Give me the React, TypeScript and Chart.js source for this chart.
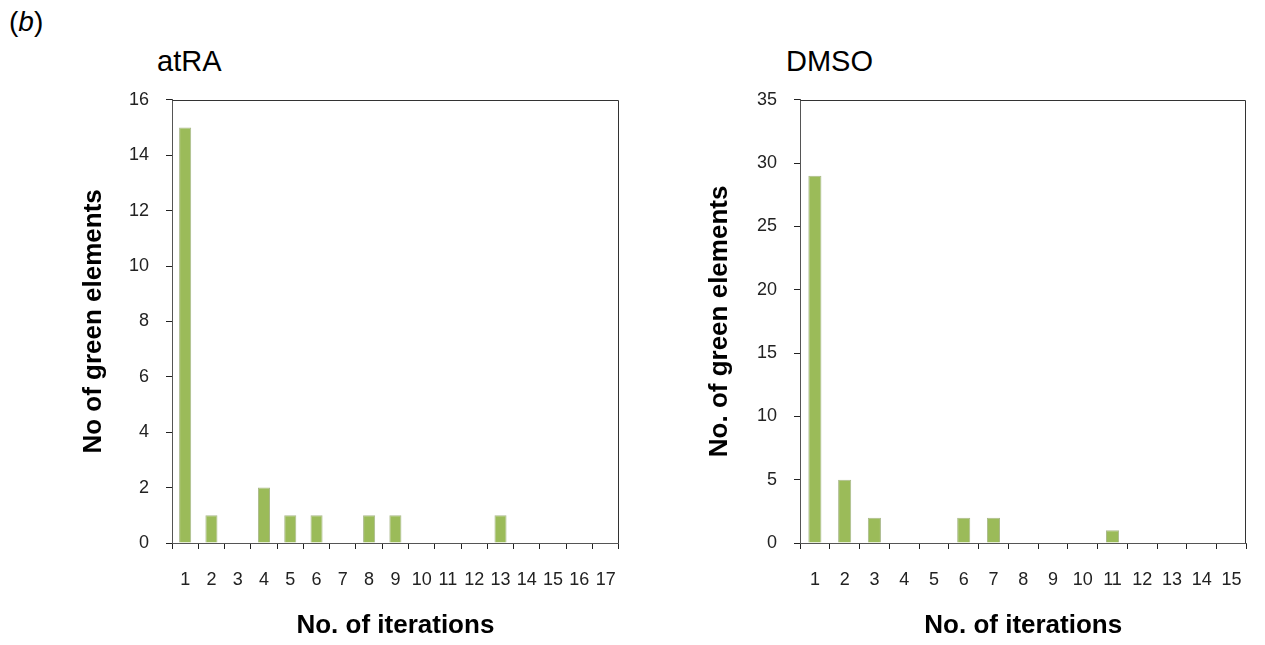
import React, { useEffect, useRef } from "react";
import { Chart, registerables } from "chart.js";

Chart.register(...registerables);

// ---- Data ----
const atraCategories = ["1", "2", "3", "4", "5", "6", "7", "8", "9", "10", "11", "12", "13", "14", "15", "16", "17"];
const atraValues = [15, 1, 0, 2, 1, 1, 0, 1, 1, 0, 0, 0, 1, 0, 0, 0, 0];
const atraYMax = 16;
const atraYStep = 2;

const dmsoCategories = ["1", "2", "3", "4", "5", "6", "7", "8", "9", "10", "11", "12", "13", "14", "15"];
const dmsoValues = [29, 5, 2, 0, 0, 2, 2, 0, 0, 0, 1, 0, 0, 0, 0];
const dmsoYMax = 35;
const dmsoYStep = 5;

const atraTitle = "atRA";
const dmsoTitle = "DMSO";
const atraYTitle = "No of green elements";
const dmsoYTitle = "No. of green elements";
const xTitle = "No. of iterations";
const panelLabel = "b";

const FONT = "'Liberation Sans', Arial, Helvetica, sans-serif";
const BAR_COLOR = "#9BBB59";

const framePlugin = {
  id: "frameLines",
  afterDraw(chart: any) {
    const { ctx, chartArea } = chart;
    const l = Math.round(chartArea.left) + 0.5;
    const r = Math.round(chartArea.right) - 0.5;
    const t = Math.round(chartArea.top) + 0.5;
    const b = Math.round(chartArea.bottom);
    ctx.save();
    ctx.strokeStyle = "#333333";
    ctx.lineWidth = 1;
    ctx.beginPath();
    ctx.moveTo(l, t);
    ctx.lineTo(r, t);
    ctx.moveTo(r, t);
    ctx.lineTo(r, b);
    ctx.stroke();
    ctx.restore();
  },
};

type PanelProps = {
  left: number;
  top: number;
  width: number;
  height: number;
  labels: string[];
  values: number[];
  yMax: number;
  yStep: number;
  yTitle: string;
  yWidth: number;
  barPct: number;
};

function Panel(props: PanelProps) {
  const ref = useRef<HTMLCanvasElement | null>(null);
  useEffect(() => {
    if (!ref.current) return;
    const chart = new Chart(ref.current, {
      type: "bar",
      data: {
        labels: props.labels,
        datasets: [
          {
            data: props.values,
            backgroundColor: BAR_COLOR,
            borderColor: "#AAB98C",
            borderWidth: 1,
            categoryPercentage: 1,
            barPercentage: props.barPct,
          },
        ],
      },
      options: {
        responsive: false,
        animation: false,
        layout: { padding: { top: 14, right: 12, left: 0, bottom: 0 } },
        plugins: {
          legend: { display: false },
          tooltip: { enabled: false },
        },
        scales: {
          x: {
            offset: true,
            afterFit: (scale: any) => {
              scale.height = 101;
            },
            grid: {
              offset: true,
              drawOnChartArea: false,
              drawTicks: true,
              tickLength: 6,
              color: "#222222",
            },
            border: { display: true, color: "#555555", width: 1 },
            ticks: {
              color: "#222222",
              font: { family: FONT, size: 18 },
              padding: 20,
              maxRotation: 0,
              autoSkip: false,
            },
            title: {
              display: true,
              text: xTitle,
              color: "#000000",
              font: { family: FONT, size: 26, weight: "bold" },
              padding: { top: 4, bottom: 3 },
            },
          },
          y: {
            min: 0,
            max: props.yMax,
            afterFit: (scale: any) => {
              scale.width = props.yWidth;
            },
            grid: {
              drawOnChartArea: false,
              drawTicks: true,
              tickLength: 6,
              color: "#222222",
            },
            border: { display: true, color: "#555555", width: 1 },
            ticks: {
              stepSize: props.yStep,
              color: "#222222",
              font: { family: FONT, size: 18 },
              padding: 17,
            },
            title: {
              display: true,
              text: props.yTitle,
              color: "#000000",
              font: { family: FONT, size: 26, weight: "bold" },
              padding: { top: 3, bottom: 4 },
            },
          },
        },
      },
      plugins: [framePlugin],
    } as any);
    return () => chart.destroy();
  }, []);
  return (
    <canvas
      ref={ref}
      width={props.width}
      height={props.height}
      style={{ position: "absolute", left: props.left, top: props.top, width: props.width, height: props.height }}
    />
  );
}

const textStyle: React.CSSProperties = {
  position: "absolute",
  fontFamily: FONT,
  lineHeight: 1,
  color: "#000",
  whiteSpace: "nowrap",
};

export default function App() {
  return (
    <div style={{ position: "absolute", left: 0, top: 0, width: 1265, height: 645, background: "#fff" }}>
      <div style={{ ...textStyle, left: 9, top: 8, fontSize: 28 }}>
        (<i>{panelLabel}</i>)
      </div>
      <div style={{ ...textStyle, left: 157, top: 47, fontSize: 29 }}>{atraTitle}</div>
      <div style={{ ...textStyle, left: 786, top: 47, fontSize: 29 }}>{dmsoTitle}</div>
      <Panel
        left={75}
        top={72}
        width={561}
        height={572}
        labels={atraCategories}
        values={atraValues}
        yMax={atraYMax}
        yStep={atraYStep}
        yTitle={atraYTitle}
        yWidth={97}
        barPct={0.46}
      />
      <Panel
        left={701}
        top={72}
        width={561}
        height={572}
        labels={dmsoCategories}
        values={dmsoValues}
        yMax={dmsoYMax}
        yStep={dmsoYStep}
        yTitle={dmsoYTitle}
        yWidth={99}
        barPct={0.44}
      />
    </div>
  );
}
